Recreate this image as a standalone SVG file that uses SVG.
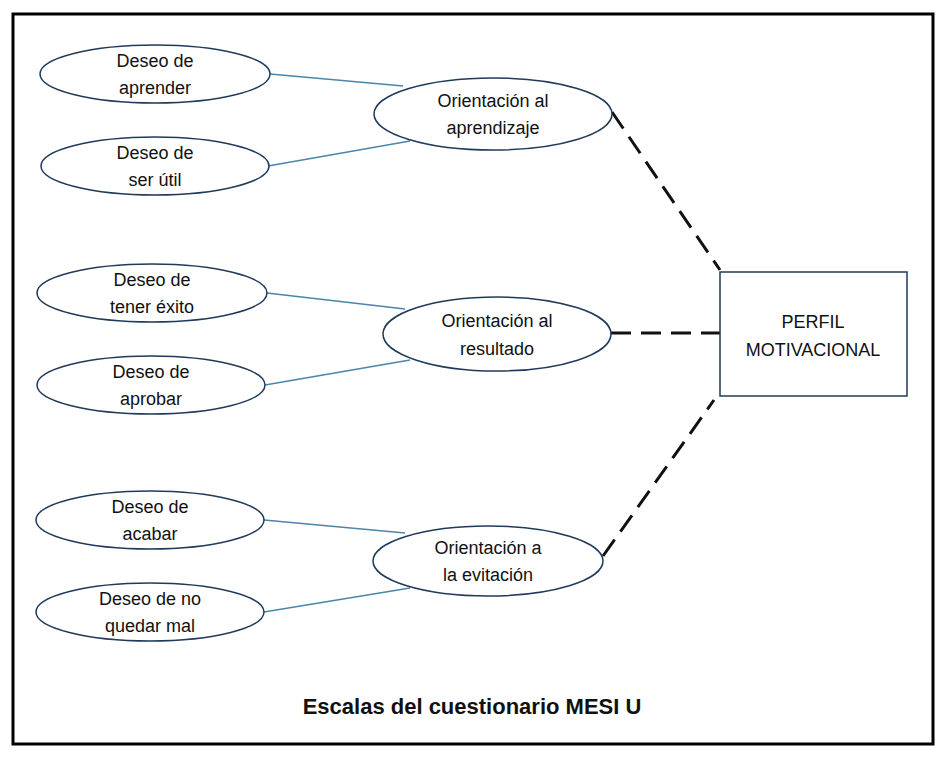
<svg xmlns="http://www.w3.org/2000/svg" width="947" height="760" viewBox="0 0 947 760">
<style>
.e{fill:#fff;stroke:#1f3a5a;stroke-width:1.5}
.t{font-family:"Liberation Sans",Arial,sans-serif;font-size:18px;fill:#111;text-anchor:middle}
.b{stroke:#4a86a8;stroke-width:1.5;fill:none}
.d{stroke:#111;stroke-width:3;stroke-dasharray:20 10;fill:none}
</style>
<rect x="0" y="0" width="947" height="760" fill="#fff"/>
<rect x="13" y="14" width="920" height="730" fill="#fff" stroke="#000" stroke-width="3"/>
<g id="connectors">
<line class="b" x1="270" y1="74" x2="403" y2="86"/>
<line class="b" x1="268" y1="166" x2="410" y2="141"/>
<line class="b" x1="267" y1="293" x2="405" y2="309"/>
<line class="b" x1="265" y1="385" x2="410" y2="360"/>
<line class="b" x1="264" y1="520" x2="405" y2="533"/>
<line class="b" x1="264" y1="612" x2="410" y2="588"/>
<line class="d" x1="612" y1="112" x2="720" y2="270"/>
<line class="d" x1="611" y1="333" x2="720" y2="333"/>
<line class="d" x1="603" y1="556" x2="714" y2="400"/>
</g>
<g id="n1"><ellipse class="e" cx="155" cy="74" rx="115" ry="29"/><text class="t" x="155" y="67">Deseo de</text><text class="t" x="155" y="94">aprender</text></g>
<g id="n2"><ellipse class="e" cx="155" cy="166" rx="114" ry="29"/><text class="t" x="155" y="159">Deseo de</text><text class="t" x="155" y="186">ser útil</text></g>
<g id="n3"><ellipse class="e" cx="152" cy="293" rx="115" ry="29"/><text class="t" x="152" y="286">Deseo de</text><text class="t" x="152" y="313">tener éxito</text></g>
<g id="n4"><ellipse class="e" cx="151" cy="385" rx="114" ry="29"/><text class="t" x="151" y="378">Deseo de</text><text class="t" x="151" y="405">aprobar</text></g>
<g id="n5"><ellipse class="e" cx="150" cy="520" rx="114" ry="29"/><text class="t" x="150" y="513">Deseo de</text><text class="t" x="150" y="540">acabar</text></g>
<g id="n6"><ellipse class="e" cx="150" cy="612" rx="114" ry="29"/><text class="t" x="150" y="605">Deseo de no</text><text class="t" x="150" y="632">quedar mal</text></g>
<g id="oA"><ellipse class="e" cx="493" cy="114" rx="119" ry="36"/><text class="t" x="493" y="107">Orientación al</text><text class="t" x="493" y="134">aprendizaje</text></g>
<g id="oB"><ellipse class="e" cx="497" cy="334" rx="114" ry="37"/><text class="t" x="497" y="327">Orientación al</text><text class="t" x="497" y="355">resultado</text></g>
<g id="oC"><ellipse class="e" cx="488" cy="561" rx="115" ry="35"/><text class="t" x="488" y="554">Orientación a</text><text class="t" x="488" y="581">la evitación</text></g>
<g id="perfil"><rect x="720" y="272" width="187" height="124" fill="#fff" stroke="#1f3a5a" stroke-width="1.5"/><text class="t" x="813" y="328">PERFIL</text><text class="t" x="813" y="356">MOTIVACIONAL</text></g>
<text x="472" y="714" font-family="'Liberation Sans',Arial,sans-serif" font-size="22" font-weight="bold" text-anchor="middle" fill="#111">Escalas del cuestionario MESI U</text>
</svg>
